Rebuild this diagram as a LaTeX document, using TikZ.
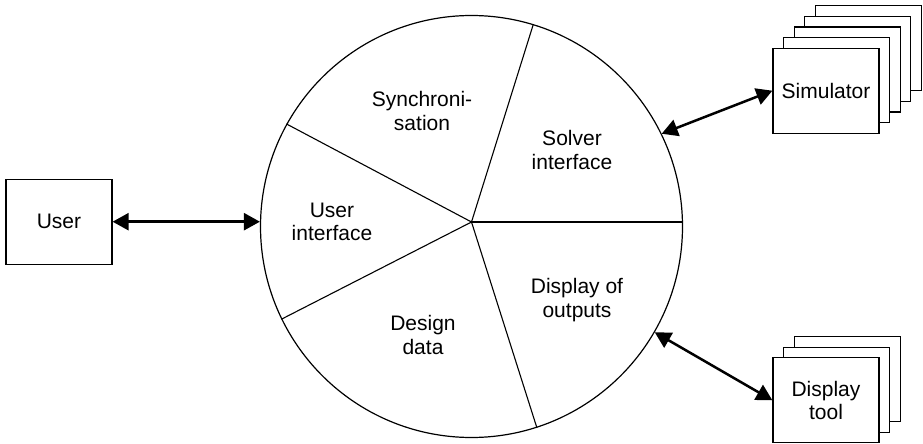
\documentclass[tikz,border=0pt]{standalone}
\usepackage{fontspec}
\setmainfont{Liberation Sans}
\usetikzlibrary{arrows.meta}
\begin{document}
\begin{tikzpicture}[x=1pt,y=-1pt,
  lbl/.style={align=center,font=\fontsize{21}{23.5}\selectfont,inner sep=0pt},
  box/.style={draw,fill=white,line width=1.2pt,minimum width=106pt,minimum height=85pt,inner sep=0pt,align=center,font=\fontsize{21}{23.5}\selectfont},
  conn/.style={line width=2.5pt,{Triangle[length=16pt,width=17pt]}-{Triangle[length=16pt,width=17pt]}},
  spoke/.style={line width=1.1pt}]
\useasboundingbox (0,0) rectangle (923,444);
% wheel
\node[draw,circle,line width=1.2pt,minimum size=422pt,inner sep=0pt] (C) at (471.5,226.5) {};
\coordinate (O) at (471.5,222);
\draw[spoke] (O) -- (C.73.8);
\draw[spoke] (O) -- (C.151.8);
\draw[spoke] (O) -- (C.206.7);
\draw[spoke] (O) -- (C.-72.5);
\draw[spoke] (O) -- (O -| C.east);
\node[lbl] (sync) at (422,111) {Synchroni-\\sation};
\node[lbl] (solv) at (572,150) {Solver\\interface};
\node[lbl] (ui) at (332,222) {User\\interface};
\node[lbl] (dd) at (423,335) {Design\\data};
\node[lbl] (disp) at (577,300) {Display of\\outputs};
% user
\node[box] (user) at (59,221.7) {User};
% simulator stack
\node[box] (sim4) at (868.4,48.3) {};
\node[box] (sim3) at (857.8,58.9) {};
\node[box] (sim2) at (847.2,69.5) {};
\node[box] (sim1) at (836.6,80.1) {};
\node[box] (sim) at (826,90.7) {Simulator};
% display tool stack
\node[box] (dt2) at (847.2,379.1) {};
\node[box] (dt1) at (836.6,389.7) {};
\node[box] (dt) at (826,400.3) {Display\\tool};
% connectors
\draw[conn] (user.east) -- (user.east -| C.west);
\draw[conn] (C.26) -- (sim.west);
\draw[conn] (C.-30) -- (dt.west);
\end{tikzpicture}
\end{document}
